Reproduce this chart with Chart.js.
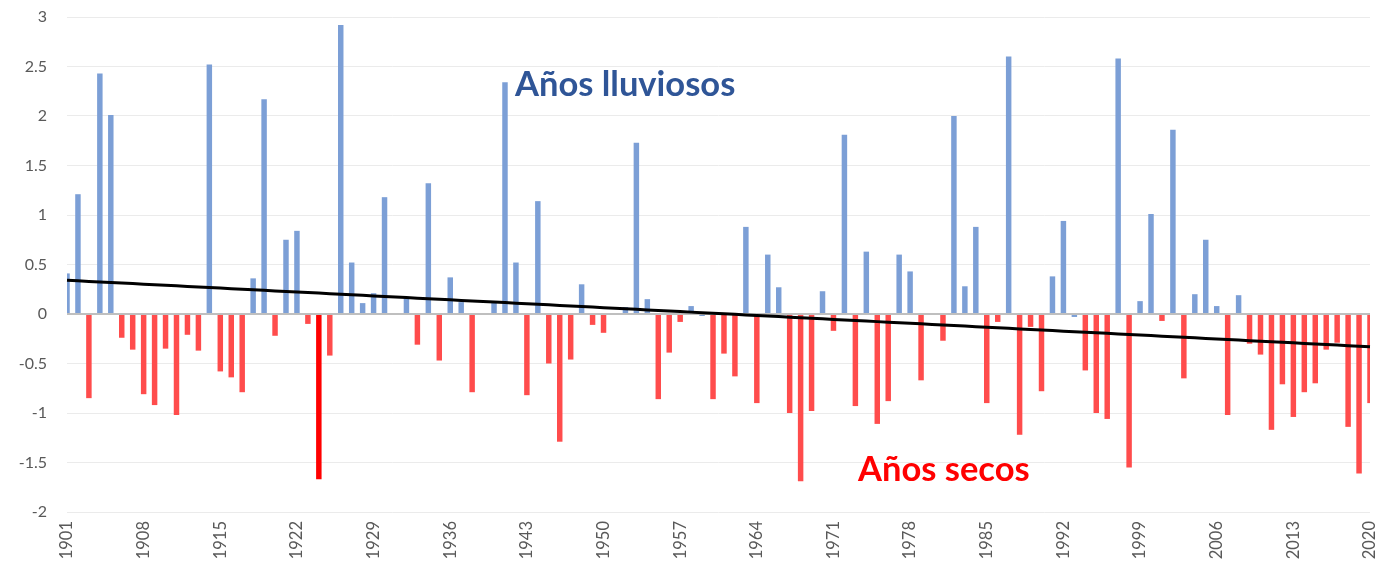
<!DOCTYPE html>
<html>
<head>
<meta charset="utf-8">
<script src="https://cdn.jsdelivr.net/npm/chart.js@4/dist/chart.umd.min.js"></script>
<style>
  html, body { margin: 0; padding: 0; background: #fff; }
  #wrap { width: 1388px; height: 572px; position: relative; }
</style>
</head>
<body>
<div id="wrap"><canvas id="chart1"></canvas></div>
<script>
// years 1901..2020
const years = Array.from({ length: 120 }, (_, i) => String(1901 + i));

// anomaly per year
const anomalies = [
  0.41, 1.21, -0.85, 2.43, 2.01, -0.24, -0.36, -0.81, -0.92, -0.35,   // 1901-1910
  -1.02, -0.21, -0.37, 2.52, -0.58, -0.64, -0.79, 0.36, 2.17, -0.22,  // 1911-1920
  0.75, 0.84, -0.10, -1.67, -0.42, 2.92, 0.52, 0.11, 0.21, 1.18,      // 1921-1930
  0, 0.16, -0.31, 1.32, -0.47, 0.37, 0.12, -0.79, 0, 0.12,            // 1931-1940
  2.34, 0.52, -0.82, 1.14, -0.50, -1.29, -0.46, 0.30, -0.11, -0.19,   // 1941-1950
  0, 0.07, 1.73, 0.15, -0.86, -0.39, -0.08, 0.08, -0.02, -0.86,       // 1951-1960
  -0.40, -0.63, 0.88, -0.90, 0.60, 0.27, -1.00, -1.69, -0.98, 0.23,   // 1961-1970
  -0.17, 1.81, -0.93, 0.63, -1.11, -0.88, 0.60, 0.43, -0.67, 0,       // 1971-1980
  -0.27, 2.00, 0.28, 0.88, -0.90, -0.08, 2.60, -1.22, -0.13, -0.78,   // 1981-1990
  0.38, 0.94, -0.03, -0.57, -1.00, -1.06, 2.58, -1.55, 0.13, 1.01,    // 1991-2000
  -0.07, 1.86, -0.65, 0.20, 0.75, 0.08, -1.02, 0.19, -0.30, -0.41,    // 2001-2010
  -1.17, -0.71, -1.04, -0.79, -0.70, -0.36, -0.29, -1.14, -1.61, -0.90 // 2011-2020
];

// years shown on the category axis
const shownYears = ['1901', '1908', '1915', '1922', '1929', '1936', '1943', '1950', '1957',
  '1964', '1971', '1978', '1985', '1992', '1999', '2006', '2013', '2020'];

// y axis range / ticks
const yMin = -2, yMax = 3, yStep = 0.5;

// bars drawn in solid red
const highlightYears = ['1924'];

// linear trend (least squares) over the series
const n = anomalies.length;
const mx = (n - 1) / 2;
const my = anomalies.reduce((a, b) => a + b, 0) / n;
let sxy = 0, sxx = 0;
anomalies.forEach((v, i) => { sxy += (i - mx) * (v - my); sxx += (i - mx) * (i - mx); });
const slope = sxy / sxx;
const trend = anomalies.map((_, i) => my + slope * (i - mx));

const barColors = anomalies.map((v, i) => {
  if (highlightYears.includes(years[i])) return '#FF0000';
  return v > -0.05 ? '#7C9FD6' : '#FF4C4C';
});

// the two text labels
const labelPlugin = {
  id: 'labels',
  afterDatasetsDraw(chart) {
    const { ctx } = chart;
    ctx.save();
    ctx.textBaseline = 'alphabetic';
    ctx.textAlign = 'left';
    ctx.font = 'bold 34.5px Lato';
    ctx.fillStyle = '#2F5597';
    ctx.fillText('Años lluviosos', 515, 96);
    ctx.fillStyle = '#FF0000';
    ctx.fillText('Años secos', 858, 481);
    ctx.restore();
  }
};

const ctx = document.getElementById('chart1').getContext('2d');
new Chart(ctx, {
  data: {
    labels: years,
    datasets: [
      {
        type: 'line',
        data: trend,
        borderColor: '#000',
        borderWidth: 3,
        pointRadius: 0,
        order: 1
      },
      {
        type: 'bar',
        data: anomalies,
        backgroundColor: barColors,
        barPercentage: 0.5,
        categoryPercentage: 1,
        order: 2
      }
    ]
  },
  options: {
    responsive: true,
    maintainAspectRatio: false,
    animation: false,
    layout: { padding: { top: 17, right: 18, left: 0, bottom: 0 } },
    plugins: { legend: { display: false }, tooltip: { enabled: false } },
    scales: {
      x: {
        offset: false,
        // invisible tick marks just to keep a gap above the year labels
        grid: { drawOnChartArea: false, drawTicks: true, tickLength: 9, tickColor: 'rgba(0,0,0,0)' },
        border: { display: false },
        ticks: {
          autoSkip: false,
          minRotation: 90,
          maxRotation: 90,
          padding: 0,
          color: '#595959',
          font: { family: 'Lato', size: 16.5, lineHeight: 1 },
          callback: function (val, idx) {
            const y = years[idx];
            return shownYears.includes(y) ? y : '';
          }
        },
        afterFit: (s) => { s.height = 60; }
      },
      y: {
        min: yMin,
        max: yMax,
        grid: {
          drawTicks: true,
          tickLength: 20,
          tickColor: 'rgba(0,0,0,0)',
          color: (c) => (c.tick && c.tick.value === 0 ? '#BFBFBF' : '#EBEBEB'),
          lineWidth: (c) => (c.tick && c.tick.value === 0 ? 2 : 1)
        },
        border: { display: false },
        ticks: {
          stepSize: yStep,
          padding: 0,
          color: '#595959',
          font: { family: 'Lato', size: 16 },
          callback: (v) => String(Math.round(v * 10) / 10)
        },
        afterFit: (s) => { s.width = 67; }
      }
    }
  },
  plugins: [labelPlugin]
});
</script>
</body>
</html>
